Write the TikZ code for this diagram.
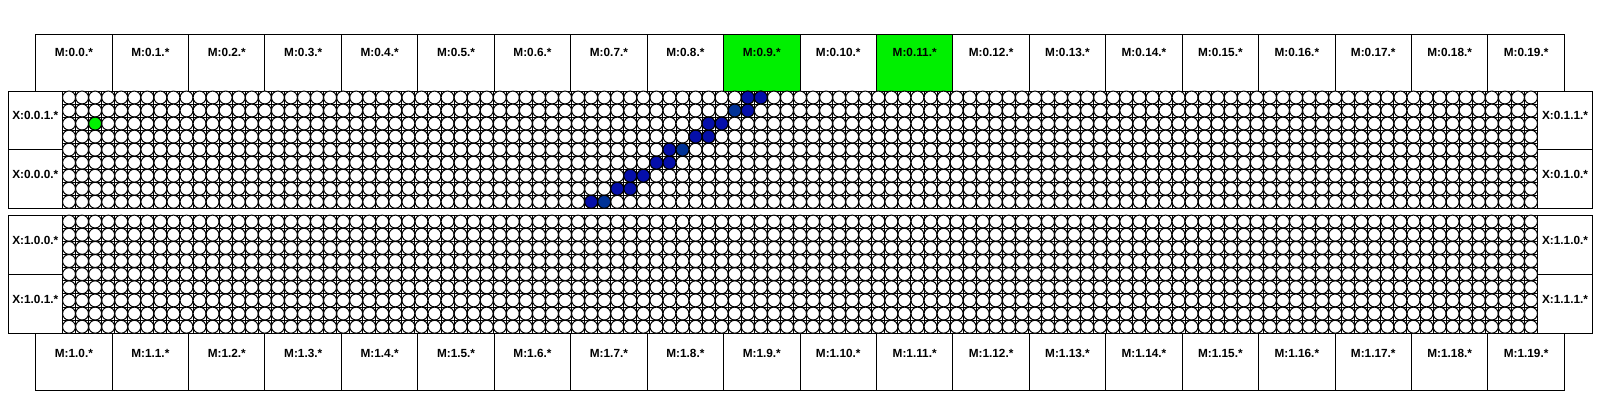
\documentclass[tikz,border=0pt]{standalone}
\usepackage{fontspec}
\setmainfont{Liberation Sans}
\definecolor{cellgreen}{RGB}{0,240,0}
\definecolor{cellblue}{RGB}{5,15,170}
\definecolor{cellteal}{RGB}{0,50,150}
\begin{document}
\begin{tikzpicture}[x=1pt,y=-1pt,
  box/.style={draw=black,line width=1pt,fill=white,inner sep=0pt,outer sep=0pt,rectangle},
  lab/.style={inner sep=0pt,font=\fontsize{11.8}{13}\selectfont\bfseries},
  gridline/.style={draw=black,line width=1pt},
  cell/.style={draw=black,line width=1pt,fill=white},
  hot/.style={draw=black,line width=1pt,fill=cellblue},
  hot2/.style={draw=black,line width=1pt,fill=cellteal},
  greencell/.style={draw=black,line width=1pt,fill=cellgreen}]
\useasboundingbox (0,0) rectangle (1600,400);
\fill[white] (0,0) rectangle (1600,400);
% top and bottom M boxes
\foreach \i in {0,...,19}{
  \pgfmathsetmacro\xa{35.7+\i*76.43}
  \pgfmathsetmacro\xc{\xa+38.215}
  \ifnum\i=9 \def\fc{cellgreen}\else\ifnum\i=11 \def\fc{cellgreen}\else\def\fc{white}\fi\fi
  \node[box,fill=\fc,anchor=north west,minimum width=76.43pt,minimum height=56.7pt] (mt\i) at (\xa,34.3) {};
  \node[lab] (mtl\i) at (\xc,52) {M:0.\i.*};
  \node[box,anchor=north west,minimum width=76.43pt,minimum height=56.7pt] (mb\i) at (\xa,333.3) {};
  \node[lab] (mbl\i) at (\xc,353) {M:1.\i.*};
}
% racks
\foreach \k/\ya/\yb in {0/91/208.3,1/215/333.3}{
  \pgfmathsetmacro\ym{(\ya+\yb)/2}
  \node[box,anchor=north west,minimum width=1584.4pt,minimum height=\yb-\ya] (rack\k) at (8.3,\ya) {};
  \node[box,anchor=north west,minimum width=54.2pt,minimum height=\ym-\ya] (xlt\k) at (8.3,\ya) {};
  \node[box,anchor=north west,minimum width=54.2pt,minimum height=\yb-\ym] (xlb\k) at (8.3,\ym) {};
  \node[box,anchor=north west,minimum width=55.2pt,minimum height=\ym-\ya] (xrt\k) at (1537.5,\ya) {};
  \node[box,anchor=north west,minimum width=55.2pt,minimum height=\yb-\ym] (xrb\k) at (1537.5,\ym) {};
  \pgfmathsetmacro\dy{(\yb-\ya)/9}
  \foreach \c in {1,...,112}{
    \pgfmathsetmacro\gx{62.5+\c*13.053}
    \draw[gridline] (\gx,\ya) -- (\gx,\yb);
  }
  \foreach \r in {1,...,8}{
    \pgfmathsetmacro\gy{\ya+\r*\dy}
    \draw[gridline] (62.5,\gy) -- (1537.5,\gy);
  }
  \foreach \r in {0,...,8}{
    \pgfmathsetmacro\cy{\ya+(\r+0.5)*\dy}
    \foreach \c in {0,...,112}{
      \pgfmathsetmacro\cx{62.5+(\c+0.5)*13.053}
      \draw[cell] (\cx,\cy) circle[radius=6.45pt];
    }
  }
}
% labels of X boxes
\node[lab] (x001) at (35.3,115) {X:0.0.1.*};
\node[lab] (x000) at (35.3,174) {X:0.0.0.*};
\node[lab] (x100) at (35.3,240) {X:1.0.0.*};
\node[lab] (x101) at (35.3,299) {X:1.0.1.*};
\node[lab] (x011) at (1565,115) {X:0.1.1.*};
\node[lab] (x010) at (1565,174) {X:0.1.0.*};
\node[lab] (x110) at (1565,240) {X:1.1.0.*};
\node[lab] (x111) at (1565,299) {X:1.1.1.*};
% highlighted cells in rack 0
\draw[greencell] (62.5+2.5*13.053,91+2.5*13.033) circle[radius=6.45pt];
\foreach \r/\c/\s in {8/40/hot,8/41/hot2,7/42/hot,7/43/hot,6/43/hot,6/44/hot,
  5/45/hot,5/46/hot,4/46/hot,4/47/hot2,3/48/hot,3/49/hot,2/49/hot,2/50/hot,
  1/51/hot2,1/52/hot,0/52/hot,0/53/hot}{
  \draw[\s] (62.5+\c*13.053+6.53,91+\r*13.033+6.52) circle[radius=6.45pt];
}
\end{tikzpicture}
\end{document}
